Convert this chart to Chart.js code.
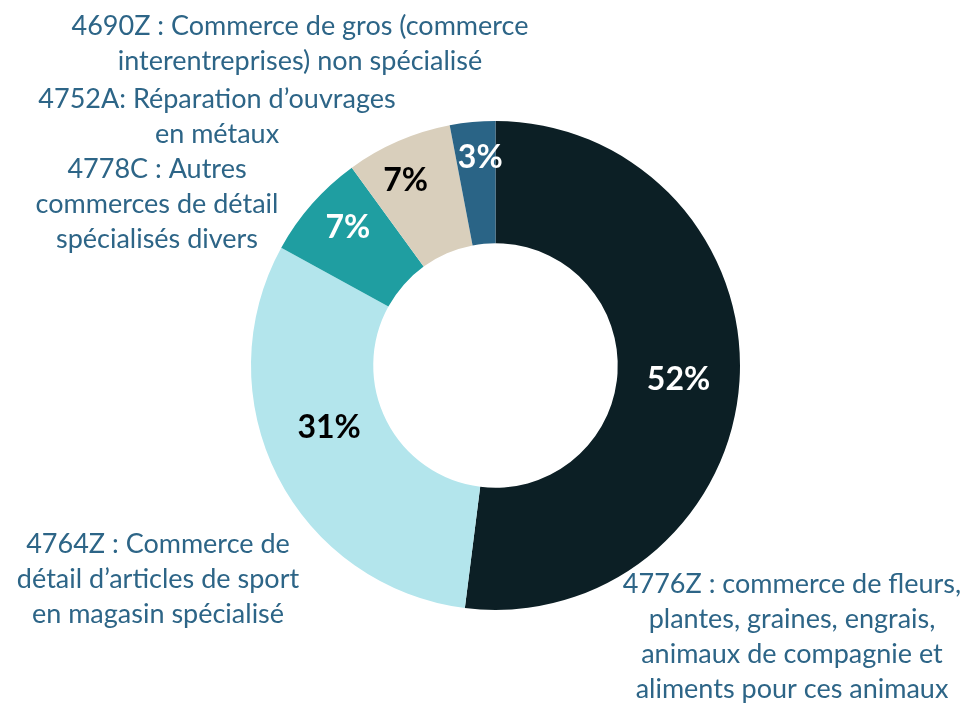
<!DOCTYPE html>
<html lang="fr">
<head>
<meta charset="utf-8">
<script src="https://cdn.jsdelivr.net/npm/chart.js@4"></script>
<style>
  html, body { margin: 0; background: #fff; }
  canvas { display: block; }
</style>
</head>
<body>
<canvas id="donut" width="968" height="703"></canvas>
<script>
// Parts par code NAF (sens horaire, depuis le haut)
const CODES  = ["4776Z", "4764Z", "4778C", "4752A", "4690Z"];
const SHARES = [52, 31, 7, 7, 3];
const LABEL_LINES = [
  ["4776Z : commerce de fleurs,", "plantes, graines, engrais,", "animaux de compagnie et", "aliments pour ces animaux"],
  ["4764Z : Commerce de", "détail d’articles de sport", "en magasin spécialisé"],
  ["4778C : Autres", "commerces de détail", "spécialisés divers"],
  ["4752A: Réparation d’ouvrages", "en métaux"],
  ["4690Z : Commerce de gros (commerce", "interentreprises) non spécialisé"]
];

const SLICE_COLORS = ["#0c1f25", "#b3e5ec", "#1f9ea1", "#d9cfbc", "#2a6486"];
const PCT_COLORS   = ["#ffffff", "#000000", "#ffffff", "#000000", "#ffffff"];
const TEXT_COLOR   = "#2d6587";

// mise en page des étiquettes (centre x, ligne de base de la 1re ligne)
const LABEL_ANCHORS = [[792, 593], [158, 553], [157, 178], [217, 108], [300, 35]];
const LINE_H = 35;
// petits décalages des pourcentages par rapport au centre du secteur
const PCT_NUDGE = [[0, 1], [-3, -22], [-10, -18], [-17, -18], [2, -26]];

const labelPlugin = {
  id: "sliceLabels",
  afterDatasetsDraw(chart) {
    const ctx = chart.ctx;
    const arcs = chart.getDatasetMeta(0).data;
    ctx.save();
    ctx.textAlign = "center";
    ctx.textBaseline = "alphabetic";

    ctx.font = "bold 32px Lato";
    arcs.forEach((arc, i) => {
      const p = arc.tooltipPosition();
      ctx.fillStyle = PCT_COLORS[i];
      ctx.fillText(SHARES[i] + "%", p.x + PCT_NUDGE[i][0], p.y + PCT_NUDGE[i][1] + 11.5);
    });

    ctx.font = "27px Lato";
    ctx.fillStyle = TEXT_COLOR;
    LABEL_LINES.forEach((lines, i) => {
      const [x, y] = LABEL_ANCHORS[i];
      lines.forEach((t, k) => ctx.fillText(t, x, y + k * LINE_H));
    });
    ctx.restore();
  }
};

new Chart(document.getElementById("donut"), {
  type: "doughnut",
  data: {
    labels: CODES,
    datasets: [{
      data: SHARES,
      backgroundColor: SLICE_COLORS,
      borderWidth: 0,
      hoverOffset: 0
    }]
  },
  options: {
    responsive: false,
    animation: false,
    cutout: "50%",
    layout: { padding: { left: 251, right: 228, top: 121, bottom: 93 } },
    plugins: {
      legend: { display: false },
      tooltip: { enabled: false }
    }
  },
  plugins: [labelPlugin]
});
</script>
</body>
</html>
